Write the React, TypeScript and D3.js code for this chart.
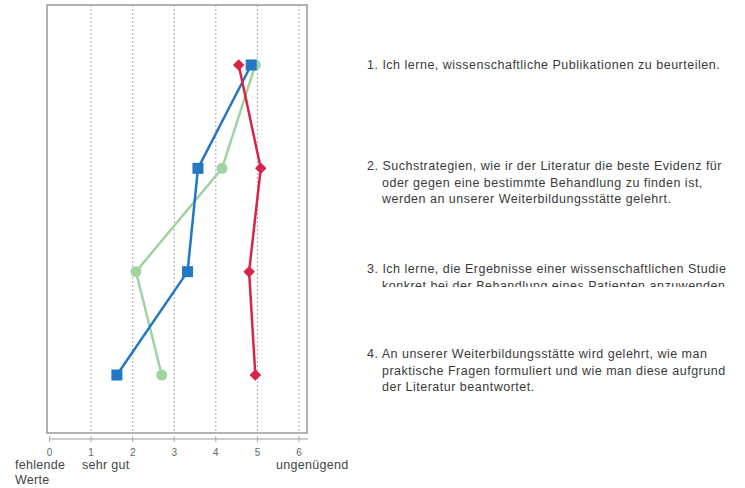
import React from "react";
import * as d3 from "d3";

const items = [1, 2, 3, 4];
const redValues = [4.55, 5.08, 4.8, 4.95];
const blueValues = [4.85, 3.57, 3.32, 1.62];
const greenValues = [4.95, 4.15, 2.08, 2.7];
const xTicks = [0, 1, 2, 3, 4, 5, 6];
const statements = [
  ["1. Ich lerne, wissenschaftliche Publikationen zu beurteilen."],
  [
    "2. Suchstrategien, wie ir der Literatur die beste Evidenz für",
    "oder gegen eine bestimmte Behandlung zu finden ist,",
    "werden an unserer Weiterbildungsstätte gelehrt.",
  ],
  [
    "3. Ich lerne, die Ergebnisse einer wissenschaftlichen Studie",
    "konkret bei der Behandlung eines Patienten anzuwenden.",
  ],
  [
    "4. An unserer Weiterbildungsstätte wird gelehrt, wie man",
    "praktische Fragen formuliert und wie man diese aufgrund",
    "der Literatur beantwortet.",
  ],
];
const statementY = [65, 166, 269, 354];

const W = 745;
const H = 488;

export default function App() {
  const x = d3.scaleLinear().domain([0, 6]).range([49.5, 299]);
  const y = d3.scaleLinear().domain([1, 4]).range([65, 375]);
  const boxLeft = 47;
  const boxRight = 307;
  const boxTop = 5;
  const boxBottom = 433;
  const axisY = 439;

  const line = (vals: number[]) =>
    d3.line<number>().x((v) => x(v)).y((_, i) => y(items[i]))(vals) || "";

  const red = "#d92449";
  const blue = "#2278c4";
  const green = "#9fd3a0";

  const textFont = "'Liberation Sans', Arial, sans-serif";
  const diamond = d3.symbol().type(d3.symbolDiamond2).size(85)() || "";

  return (
    <svg
      width={W}
      height={H}
      style={{ position: "absolute", left: 0, top: 0, background: "#fff" }}
      fontFamily={textFont}
    >
      <defs>
        <clipPath id="clip3">
          <rect x={350} y={250} width={395} height={37} />
        </clipPath>
      </defs>
      {/* grid lines */}
      {xTicks.slice(1).map((t) => (
        <line
          key={t}
          x1={x(t)}
          x2={x(t)}
          y1={boxTop}
          y2={boxBottom}
          stroke="#aaa"
          strokeWidth={1}
          strokeDasharray="2,2"
        />
      ))}
      {/* box */}
      <rect
        x={boxLeft}
        y={boxTop}
        width={boxRight - boxLeft}
        height={boxBottom - boxTop}
        fill="none"
        stroke="#999"
        strokeWidth={1.5}
      />
      {/* axis */}
      <line x1={49} x2={308} y1={axisY} y2={axisY} stroke="#999" strokeWidth={1.2} />
      {xTicks.map((t) => (
        <g key={t}>
          <line x1={x(t)} x2={x(t)} y1={axisY - 3} y2={axisY + 3} stroke="#aaa" strokeWidth={1} />
          <text x={x(t)} y={456} textAnchor="middle" fontSize={10} fill="#666">
            {t}
          </text>
        </g>
      ))}
      <g fontSize={12.5} fill="#444" letterSpacing={0.3}>
        <text x={15} y={469}>fehlende</text>
        <text x={15} y={484}>Werte</text>
        <text x={82} y={469}>sehr gut</text>
        <text x={276} y={469}>ungenügend</text>
      </g>

      {/* series */}
      <path d={line(greenValues)} fill="none" stroke={green} strokeWidth={2.5} />
      {greenValues.map((v, i) => (
        <circle key={i} cx={x(v)} cy={y(items[i])} r={5.5} fill={green} />
      ))}
      <path d={line(blueValues)} fill="none" stroke={blue} strokeWidth={2.5} />
      {blueValues.map((v, i) => (
        <rect key={i} x={x(v) - 5.5} y={y(items[i]) - 5.5} width={11} height={11} fill={blue} />
      ))}
      <path d={line(redValues)} fill="none" stroke={red} strokeWidth={2.5} />
      {redValues.map((v, i) => (
        <path key={i} d={diamond} transform={`translate(${x(v)},${y(items[i])})`} fill={red} />
      ))}

      {/* statements */}
      {statements.map((lines, i) => (
        <g key={i} clipPath={i === 2 ? "url(#clip3)" : undefined}>
          {lines.map((l, j) => (
            <text
              key={j}
              x={j === 0 ? 367 : 382}
              y={statementY[i] + j * 16.5 + 4}
              fontSize={12.5}
              letterSpacing={0.5}
              fill="#3a3a3a"
            >
              {l}
            </text>
          ))}
        </g>
      ))}
    </svg>
  );
}
